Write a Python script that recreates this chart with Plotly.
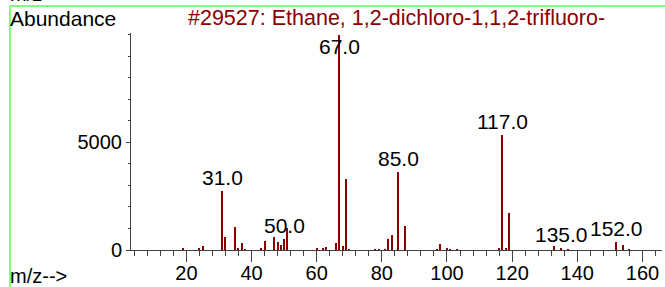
import plotly.graph_objects as go

# ---- data ----
mz = [19, 24, 25, 31, 32, 35, 36, 37, 38, 43, 44, 47, 48, 49, 50, 51,
      60, 62, 63, 66, 67, 68, 69, 70, 78, 79, 81, 82, 83, 85, 87,
      97, 98, 100, 101, 103, 116, 117, 118, 119, 133, 135, 137, 152, 154, 156]
abundance = [50, 80, 185, 2760, 590, 1070, 100, 310, 40, 80, 420, 590, 395, 230, 510, 1040,
             60, 60, 160, 325, 9999, 185, 3300, 40, 40, 40, 40, 510, 710, 3630, 1100,
             40, 265, 60, 40, 30, 100, 5350, 100, 1720, 185, 100, 40, 360, 220, 40]
label_mz = [31, 50, 67, 85, 117, 135, 152]
ytick_vals = [0, 5000]
ytick_text = ["0", "5000"]
xtick_vals = [20, 40, 60, 80, 100, 120, 140, 160]
xtick_text = ["20", "40", "60", "80", "100", "120", "140", "160"]
title_text = "#29527: Ethane, 1,2-dichloro-1,1,2-trifluoro-"

# ---- layout geometry (pixels) ----
W, H = 665, 287
L, R, T, B = 131, 662, 33, 250
XR = [3, 166]
YR = [0, 10080]
FONT = "Liberation Sans, Arial, sans-serif"
DARKRED = "#8b0000"


def px(x):
    return (x - L) / (R - L)


def py(y):
    return (B - y) / (B - T)


fig = go.Figure()
fig.add_trace(go.Bar(x=mz, y=abundance, width=0.32,
                     marker=dict(color=DARKRED, line=dict(width=0)),
                     hoverinfo="x+y"))

ann = []
lookup = dict(zip(mz, abundance))
for m in label_mz:
    v = lookup[m]
    if v > 0.9 * YR[1]:
        ann.append(dict(x=m, y=YR[1], xref="x", yref="y", text=f"{m:.1f}",
                        showarrow=False, yanchor="top", xanchor="center",
                        font=dict(family=FONT, size=21, color="black")))
    else:
        ann.append(dict(x=m, y=v, xref="x", yref="y", text=f"{m:.1f}",
                        showarrow=False, yanchor="bottom", xanchor="center",
                        font=dict(family=FONT, size=21, color="black")))

ann.append(dict(x=px(8), y=py(32), xref="paper", yref="paper", text="Abundance",
                showarrow=False, xanchor="left", yanchor="bottom",
                font=dict(family=FONT, size=21, color="black")))
ann.append(dict(x=px(396), y=py(32), xref="paper", yref="paper", text=title_text,
                showarrow=False, xanchor="center", yanchor="bottom",
                font=dict(family=FONT, size=21.5, color=DARKRED)))
ann.append(dict(x=px(8), y=py(289), xref="paper", yref="paper", text="m/z-->",
                showarrow=False, xanchor="left", yanchor="bottom",
                font=dict(family=FONT, size=20, color="black")))
ann.append(dict(x=px(8), y=py(7), xref="paper", yref="paper", text="m/z-->",
                showarrow=False, xanchor="left", yanchor="bottom",
                font=dict(family=FONT, size=20, color="black")))

shapes = [
    dict(type="line", xref="paper", yref="paper", x0=px(10), x1=px(666),
         y0=py(6), y1=py(6), line=dict(color="#80ff80", width=2)),
    dict(type="line", xref="paper", yref="paper", x0=px(10), x1=px(10),
         y0=py(6), y1=py(290), line=dict(color="#80ff80", width=2)),
]

fig.update_layout(
    width=W, height=H, autosize=False,
    margin=dict(l=L, r=W - R, t=T, b=H - B, pad=0, autoexpand=False),
    paper_bgcolor="white", plot_bgcolor="white",
    showlegend=False, bargap=0,
    annotations=ann, shapes=shapes,
    font=dict(family=FONT, size=20, color="black"),
    xaxis=dict(range=XR, showgrid=False, zeroline=False, automargin=False,
               showline=True, linecolor="#404040", linewidth=1,
               ticks="outside", ticklen=11, tickwidth=1, tickcolor="#404040",
               tickmode="array", tickvals=xtick_vals, ticktext=xtick_text,
               ticklabelstandoff=-6,
               tickfont=dict(family=FONT, size=20, color="black"),
               minor=dict(dtick=4, tick0=0, ticks="outside", ticklen=5,
                          tickwidth=1, tickcolor="#404040", showgrid=False)),
    yaxis=dict(range=YR, showgrid=False, zeroline=False, automargin=False,
               showline=True, linecolor="#404040", linewidth=1,
               ticks="outside", ticklen=4, tickwidth=1, tickcolor="#404040",
               tickmode="array", tickvals=ytick_vals, ticktext=ytick_text,
               tickfont=dict(family=FONT, size=20, color="black"),
               minor=dict(dtick=1000, tick0=0, ticks="outside", ticklen=2,
                          tickwidth=1, tickcolor="#404040", showgrid=False)),
)

fig.write_html("out.html", config={"displayModeBar": False},
               post_script="document.body.style.margin='0';document.body.style.padding='0';document.body.style.overflow='hidden';")
